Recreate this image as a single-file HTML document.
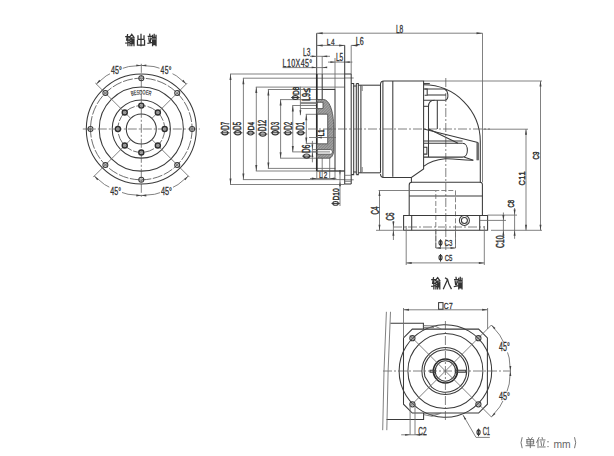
<!DOCTYPE html>
<html><head><meta charset="utf-8"><style>
html,body{margin:0;padding:0;background:#fff;}
svg{display:block;}
text{font-family:"Liberation Sans",sans-serif;stroke:#333;stroke-width:0.3;}
.o{stroke:#3a3a3a;stroke-width:1.05;fill:none;}
.t{stroke:#2a2a2a;stroke-width:1.7;fill:none;}
.d{stroke:#6a6a6a;stroke-width:0.85;fill:none;}
.c{stroke:#555;stroke-width:0.75;fill:none;stroke-dasharray:9 2 2 2;}
.h{stroke:#666;stroke-width:0.8;fill:none;stroke-dasharray:5 2;}
.hl{stroke:#555;stroke-width:0.85;fill:none;stroke-dasharray:10 1.6;}
.ih{stroke:#2e2e2e;stroke-width:1.45;fill:#bbb;}
.hb{stroke:#555;stroke-width:0.9;fill:none;stroke-dasharray:2.5 1.5;}
.ht{stroke:#666;stroke-width:0.6;fill:none;}
.tx{stroke:#333;stroke-width:1;fill:none;}
.g{stroke:#333;stroke-width:1.3;fill:none;stroke-linecap:round;stroke-linejoin:round;}
</style></head>
<body><svg width="614" height="456" viewBox="0 0 614 456">
<circle class="o" cx="141.3" cy="129" r="55"/>
<circle class="hl" cx="141.3" cy="129" r="50.8"/>
<circle class="o" cx="141.3" cy="129" r="42.1"/>
<circle class="o" cx="141.3" cy="129" r="29.1"/>
<circle class="hl" cx="141.3" cy="129" r="23.4"/>
<circle class="o" cx="141.3" cy="129" r="15"/>
<line class="c" x1="82.8" y1="129" x2="199.8" y2="129"/>
<line class="c" x1="141.3" y1="63.8" x2="141.3" y2="197"/>
<line class="d" x1="151.91" y1="118.39" x2="187.26" y2="83.04"/>
<line class="d" x1="130.69" y1="118.39" x2="95.34" y2="83.04"/>
<line class="d" x1="130.69" y1="139.61" x2="93.22" y2="177.08"/>
<line class="d" x1="151.91" y1="139.61" x2="189.38" y2="177.08"/>
<circle class="o" cx="192.1" cy="129" r="2.5"/>
<circle class="ht" cx="192.1" cy="129" r="1.2"/>
<circle class="ih" cx="164.7" cy="129" r="2.5"/>
<circle class="ht" cx="164.7" cy="129" r="0.9"/>
<circle class="o" cx="177.22" cy="93.08" r="2.5"/>
<circle class="ht" cx="177.22" cy="93.08" r="1.2"/>
<circle class="ih" cx="157.85" cy="112.45" r="2.5"/>
<circle class="ht" cx="157.85" cy="112.45" r="0.9"/>
<circle class="o" cx="141.3" cy="78.2" r="2.5"/>
<circle class="ht" cx="141.3" cy="78.2" r="1.2"/>
<circle class="ih" cx="141.3" cy="105.6" r="2.5"/>
<circle class="ht" cx="141.3" cy="105.6" r="0.9"/>
<circle class="o" cx="105.38" cy="93.08" r="2.5"/>
<circle class="ht" cx="105.38" cy="93.08" r="1.2"/>
<circle class="ih" cx="124.75" cy="112.45" r="2.5"/>
<circle class="ht" cx="124.75" cy="112.45" r="0.9"/>
<circle class="o" cx="90.5" cy="129" r="2.5"/>
<circle class="ht" cx="90.5" cy="129" r="1.2"/>
<circle class="ih" cx="117.9" cy="129" r="2.5"/>
<circle class="ht" cx="117.9" cy="129" r="0.9"/>
<circle class="o" cx="105.38" cy="164.92" r="2.5"/>
<circle class="ht" cx="105.38" cy="164.92" r="1.2"/>
<circle class="ih" cx="124.75" cy="145.55" r="2.5"/>
<circle class="ht" cx="124.75" cy="145.55" r="0.9"/>
<circle class="o" cx="141.3" cy="179.8" r="2.5"/>
<circle class="ht" cx="141.3" cy="179.8" r="1.2"/>
<circle class="ih" cx="141.3" cy="152.4" r="2.5"/>
<circle class="ht" cx="141.3" cy="152.4" r="0.9"/>
<circle class="o" cx="177.22" cy="164.92" r="2.5"/>
<circle class="ht" cx="177.22" cy="164.92" r="1.2"/>
<circle class="ih" cx="157.85" cy="145.55" r="2.5"/>
<circle class="ht" cx="157.85" cy="145.55" r="0.9"/>
<path class="d" d="M141.3,65.4 A63.6,63.6 0 0 0 96.33,84.03"/>
<polygon fill="#444" points="141.3,65.4 136.3,66.3 136.3,64.5"/>
<polygon fill="#444" points="96.33,84.03 99.23,79.86 100.5,81.13"/>
<path class="d" d="M186.27,84.03 A63.6,63.6 0 0 0 141.3,65.4"/>
<polygon fill="#444" points="186.27,84.03 182.1,81.13 183.37,79.86"/>
<polygon fill="#444" points="141.3,65.4 146.3,64.5 146.3,66.3"/>
<path class="d" d="M94.28,176.02 A66.5,66.5 0 0 0 141.3,195.5"/>
<polygon fill="#444" points="94.28,176.02 98.45,178.92 97.18,180.19"/>
<polygon fill="#444" points="141.3,195.5 136.3,196.4 136.3,194.6"/>
<path class="d" d="M141.3,195.5 A66.5,66.5 0 0 0 188.32,176.02"/>
<polygon fill="#444" points="141.3,195.5 146.3,194.6 146.3,196.4"/>
<polygon fill="#444" points="188.32,176.02 185.42,180.19 184.15,178.92"/>
<rect x="110" y="65.8" width="12.8" height="9.2" fill="#fff"/>
<text transform="translate(111,74) scale(0.68,1)" font-size="10.47" textLength="15.88" lengthAdjust="spacing" fill="#333">45°</text>
<rect x="159.5" y="66.3" width="13" height="8.9" fill="#fff"/>
<text transform="translate(160.5,74.2) scale(0.68,1)" font-size="10.03" textLength="16.18" lengthAdjust="spacing" fill="#333">45°</text>
<rect x="109.3" y="186" width="12.7" height="9.5" fill="#fff"/>
<text transform="translate(110.3,194.5) scale(0.65,1)" font-size="10.9" textLength="16.48" lengthAdjust="spacing" fill="#333">45°</text>
<rect x="160" y="186" width="13" height="9.5" fill="#fff"/>
<text transform="translate(161,194.5) scale(0.67,1)" font-size="10.9" textLength="16.48" lengthAdjust="spacing" fill="#333">45°</text>
<path id="bp" d="M131.47,95.82 A34.6,34.6 0 0 1 151.13,95.82" fill="none" stroke="none"/>
<text font-size="6.4" fill="#3a3a3a" style="stroke-width:0.2"><textPath href="#bp" textLength="19.6" lengthAdjust="spacingAndGlyphs">BESDOER</textPath></text>
<line class="d" x1="230.5" y1="74" x2="230.5" y2="184.5"/>
<line class="d" x1="230" y1="74" x2="344.7" y2="74"/>
<line class="d" x1="230" y1="184.5" x2="344.7" y2="184.5"/>
<polygon fill="#444" points="230.5,74 231.5,80 229.5,80"/>
<polygon fill="#444" points="230.5,184.5 229.5,178.5 231.5,178.5"/>
<ellipse cx="224.9" cy="132.82" rx="3.02" ry="2.07" fill="none" stroke="#333" stroke-width="1.15"/>
<line class="tx" x1="220.5" y1="132.82" x2="229.5" y2="132.82"/>
<text style="stroke-width:0.5" transform="translate(228.5,129.74) rotate(-90) scale(0.59,1)" font-size="10.47" textLength="13.38" lengthAdjust="spacing" fill="#333">D7</text>
<line class="d" x1="243.4" y1="78.2" x2="243.4" y2="179.6"/>
<line class="d" x1="242.9" y1="78.2" x2="344.7" y2="78.2"/>
<line class="d" x1="242.9" y1="179.6" x2="344.7" y2="179.6"/>
<polygon fill="#444" points="243.4,78.2 244.4,84.2 242.4,84.2"/>
<polygon fill="#444" points="243.4,179.6 242.4,173.6 244.4,173.6"/>
<ellipse cx="237.75" cy="132.78" rx="3.07" ry="2.1" fill="none" stroke="#333" stroke-width="1.15"/>
<line class="tx" x1="233.3" y1="132.78" x2="242.4" y2="132.78"/>
<text style="stroke-width:0.5" transform="translate(241.4,129.66) rotate(-90) scale(0.57,1)" font-size="10.61" textLength="13.56" lengthAdjust="spacing" fill="#333">D5</text>
<line class="d" x1="256.3" y1="87.1" x2="256.3" y2="171"/>
<line class="d" x1="255.8" y1="87.1" x2="344.7" y2="87.1"/>
<line class="d" x1="255.8" y1="171" x2="344.7" y2="171"/>
<polygon fill="#444" points="256.3,87.1 257.3,93.1 255.3,93.1"/>
<polygon fill="#444" points="256.3,171 255.3,165 257.3,165"/>
<ellipse cx="250.6" cy="133.06" rx="2.77" ry="1.9" fill="none" stroke="#333" stroke-width="1.15"/>
<line class="tx" x1="246.5" y1="133.06" x2="254.9" y2="133.06"/>
<text style="stroke-width:0.5" transform="translate(253.9,130.22) rotate(-90) scale(0.68,1)" font-size="9.59" textLength="12.26" lengthAdjust="spacing" fill="#333">D4</text>
<line class="d" x1="268.4" y1="89.5" x2="268.4" y2="168.4"/>
<line class="d" x1="267.9" y1="89.5" x2="335.4" y2="89.5"/>
<line class="d" x1="267.9" y1="168.4" x2="335.4" y2="168.4"/>
<polygon fill="#444" points="268.4,89.5 269.4,95.5 267.4,95.5"/>
<polygon fill="#444" points="268.4,168.4 267.4,162.4 269.4,162.4"/>
<ellipse cx="262.75" cy="134.08" rx="3.07" ry="2.1" fill="none" stroke="#333" stroke-width="1.15"/>
<line class="tx" x1="258.3" y1="134.08" x2="267.4" y2="134.08"/>
<text style="stroke-width:0.5" transform="translate(266.4,130.96) rotate(-90) scale(0.57,1)" font-size="10.61" textLength="19.46" lengthAdjust="spacing" fill="#333">D12</text>
<line class="d" x1="280.6" y1="99.6" x2="280.6" y2="158.2"/>
<line class="d" x1="280.1" y1="99.6" x2="316.8" y2="99.6"/>
<line class="d" x1="280.1" y1="158.2" x2="316.8" y2="158.2"/>
<polygon fill="#444" points="280.6,99.6 281.6,105.6 279.6,105.6"/>
<polygon fill="#444" points="280.6,158.2 279.6,152.2 281.6,152.2"/>
<ellipse cx="275.25" cy="132.78" rx="3.07" ry="2.1" fill="none" stroke="#333" stroke-width="1.15"/>
<line class="tx" x1="270.8" y1="132.78" x2="279.9" y2="132.78"/>
<text style="stroke-width:0.5" transform="translate(278.9,129.66) rotate(-90) scale(0.57,1)" font-size="10.61" textLength="13.56" lengthAdjust="spacing" fill="#333">D3</text>
<line class="d" x1="292.8" y1="105.5" x2="292.8" y2="151.9"/>
<line class="d" x1="292.3" y1="105.5" x2="316.8" y2="105.5"/>
<line class="d" x1="292.3" y1="151.9" x2="316.8" y2="151.9"/>
<polygon fill="#444" points="292.8,105.5 293.8,111.5 291.8,111.5"/>
<polygon fill="#444" points="292.8,151.9 291.8,145.9 293.8,145.9"/>
<ellipse cx="287.9" cy="132.82" rx="3.02" ry="2.07" fill="none" stroke="#333" stroke-width="1.15"/>
<line class="tx" x1="283.5" y1="132.82" x2="292.5" y2="132.82"/>
<text style="stroke-width:0.5" transform="translate(291.5,129.74) rotate(-90) scale(0.59,1)" font-size="10.47" textLength="13.38" lengthAdjust="spacing" fill="#333">D2</text>
<line class="d" x1="306.3" y1="114.3" x2="306.3" y2="143.4"/>
<line class="d" x1="305.8" y1="114.3" x2="316.8" y2="114.3"/>
<line class="d" x1="305.8" y1="143.4" x2="316.8" y2="143.4"/>
<polygon fill="#444" points="306.3,114.3 307.3,120.3 305.3,120.3"/>
<polygon fill="#444" points="306.3,143.4 305.3,137.4 307.3,137.4"/>
<ellipse cx="300.75" cy="132.86" rx="2.98" ry="2.04" fill="none" stroke="#333" stroke-width="1.15"/>
<line class="tx" x1="296.4" y1="132.86" x2="305.3" y2="132.86"/>
<text style="stroke-width:0.5" transform="translate(304.3,129.82) rotate(-90) scale(0.6,1)" font-size="10.32" textLength="13.19" lengthAdjust="spacing" fill="#333">D1</text>
<line class="c" x1="344.7" y1="78" x2="354.5" y2="78"/>
<line class="c" x1="344.7" y1="179.8" x2="354.5" y2="179.8"/>
<line class="o" x1="316.7" y1="33.2" x2="316.7" y2="74"/>
<line class="d" x1="482.5" y1="33.2" x2="482.5" y2="182.2"/>
<line class="d" x1="316.7" y1="33.2" x2="482.5" y2="33.2"/>
<polygon fill="#444" points="316.7,33.2 322.7,32.2 322.7,34.2"/>
<polygon fill="#444" points="482.5,33.2 476.5,34.2 476.5,32.2"/>
<text transform="translate(395.9,32.5) scale(0.63,1)" font-size="10.47" textLength="11.64" lengthAdjust="spacing" fill="#333">L8</text>
<line class="d" x1="316.7" y1="45.4" x2="345.1" y2="45.4"/>
<polygon fill="#444" points="316.7,45.4 322.7,44.4 322.7,46.4"/>
<polygon fill="#444" points="345.1,45.4 339.1,46.4 339.1,44.4"/>
<text transform="translate(326.7,45) scale(0.68,1)" font-size="9.59" textLength="11.62" lengthAdjust="spacing" fill="#333">L4</text>
<line class="d" x1="351.2" y1="45.4" x2="351.2" y2="74"/>
<line class="d" x1="351.2" y1="45.4" x2="358" y2="45.4"/>
<polygon fill="#444" points="351.2,45.4 357.2,44.4 357.2,46.4"/>
<text transform="translate(355.8,45) scale(0.68,1)" font-size="10.47" textLength="11.64" lengthAdjust="spacing" fill="#333">L6</text>
<line class="d" x1="310" y1="56.3" x2="330" y2="56.3"/>
<polygon fill="#444" points="316.7,56.3 311.7,57.2 311.7,55.4"/>
<polygon fill="#444" points="322.2,56.3 327.2,55.4 327.2,57.2"/>
<text transform="translate(303,56.2) scale(0.57,1)" font-size="11.48" textLength="12.77" lengthAdjust="spacing" fill="#333">L3</text>
<line class="d" x1="322.2" y1="56" x2="322.2" y2="74"/>
<line class="d" x1="282.6" y1="67.6" x2="325.4" y2="67.6"/>
<polygon fill="#444" points="316.7,67.4 311.7,68.3 311.7,66.5"/>
<polygon fill="#444" points="322.2,67.4 327.2,66.5 327.2,68.3"/>
<text transform="translate(282.6,66.7) scale(0.68,1)" font-size="10.47" textLength="43.53" lengthAdjust="spacing" fill="#333">L10X45°</text>
<line class="d" x1="328" y1="62.1" x2="352.4" y2="62.1"/>
<polygon fill="#444" points="335.4,62.1 330.4,63 330.4,61.2"/>
<polygon fill="#444" points="344.7,62.1 349.7,61.2 349.7,63"/>
<text transform="translate(336,61.4) scale(0.62,1)" font-size="10.47" textLength="11.64" lengthAdjust="spacing" fill="#333">L5</text>
<line class="d" x1="335" y1="58" x2="335" y2="89.4"/>
<line class="o" x1="344.7" y1="45.4" x2="344.7" y2="184"/>
<line class="o" x1="351.2" y1="74" x2="351.2" y2="184"/>
<line class="o" x1="344.7" y1="74" x2="351.2" y2="74"/>
<line class="o" x1="344.7" y1="184" x2="351.2" y2="184"/>
<line class="d" x1="344.7" y1="175.3" x2="351.2" y2="175.3"/>
<line class="d" x1="344.7" y1="181.3" x2="351.2" y2="181.3"/>
<polyline class="o" points="351.2,83.4 353.7,83.4 353.7,86 356.3,86"/>
<polyline class="o" points="351.2,174.6 353.7,174.6 353.7,172 356.3,172"/>
<line class="o" x1="353.7" y1="86" x2="353.7" y2="172"/>
<line class="o" x1="356.3" y1="83.4" x2="356.3" y2="174.6"/>
<polyline class="o" points="356.3,83.4 358.3,83.4 358.3,174.6 356.3,174.6"/>
<polyline class="o" points="358.3,85.2 380.5,85.2"/>
<polyline class="o" points="358.3,172.8 380.5,172.8"/>
<line class="o" x1="360.9" y1="85.2" x2="360.9" y2="172.8"/>
<line class="d" x1="362.2" y1="86" x2="362.2" y2="91"/>
<line class="d" x1="362.2" y1="167" x2="362.2" y2="172"/>
<path class="o" d="M380.5,172.8 L380.5,84.3 Q380.5,80.9 383.9,80.9 L423.6,80.9 L423.6,169 L411.4,177.4 L383.9,177.4 Q380.5,177.4 380.5,174"/>
<line class="o" x1="382.9" y1="80.9" x2="382.9" y2="177.4"/>
<line class="o" x1="411.4" y1="177.4" x2="411.4" y2="182.2"/>
<line class="o" x1="392.8" y1="81" x2="392.8" y2="176.8"/>
<line class="d" x1="423.7" y1="81" x2="542" y2="81"/>
<line class="t" x1="316.8" y1="74" x2="316.8" y2="171"/>
<line class="o" x1="322.2" y1="74" x2="322.2" y2="99.5"/>
<line class="d" x1="322.2" y1="158" x2="322.2" y2="178.5"/>
<line class="d" x1="316.8" y1="171" x2="316.8" y2="178.5"/>
<line class="d" x1="335" y1="171" x2="335" y2="178.5"/>
<line class="d" x1="329.7" y1="158" x2="329.7" y2="178"/>
<line class="o" x1="335" y1="89.4" x2="335" y2="171"/>
<line class="o" x1="322.2" y1="89.4" x2="335" y2="89.4"/>
<line class="o" x1="335" y1="171" x2="344.7" y2="171"/>
<line class="o" x1="316.8" y1="171" x2="335" y2="171"/>
<defs><pattern id="hp" width="2" height="2" patternUnits="userSpaceOnUse" patternTransform="rotate(45)"><rect width="2" height="2" fill="#b4b4b4"/><line x1="0" y1="0" x2="0" y2="2" stroke="#4a4a4a" stroke-width="0.85"/><line x1="0" y1="1" x2="2" y2="1" stroke="#7a7a7a" stroke-width="0.5"/></pattern></defs>
<path fill="url(#hp)" stroke="#444" stroke-width="0.8" d="M316.8,99.5 L323.4,99.5 C329,99.5 333.7,110 333.7,128 L333.7,150 C333.7,154 332,158.2 329,158.2 L316.8,158.2 L316.8,154.2 L330.5,154.2 C333,154.2 333,149.6 330.5,149.6 L316.8,149.6 L316.8,143.8 L327.7,143.8 L327.7,114.2 L316.8,114.2 L316.8,108.6 L323,108.6 L323,102.3 L316.8,102.3 Z"/>
<line class="d" x1="300.5" y1="102.4" x2="316.8" y2="102.4"/>
<line class="d" x1="300.5" y1="103.6" x2="316.8" y2="103.6"/>
<line class="d" x1="300.5" y1="108.5" x2="316.8" y2="108.5"/>
<line class="d" x1="312.4" y1="149.6" x2="316.8" y2="149.6"/>
<line class="d" x1="312.4" y1="151.9" x2="330" y2="151.9"/>
<text style="stroke-width:0.5" transform="translate(324.4,136.3) rotate(-90) scale(0.74,1)" font-size="8.14" textLength="9.32" lengthAdjust="spacing" fill="#333">L1</text>
<line class="d" x1="309" y1="137.5" x2="336" y2="137.5"/>
<polygon fill="#444" points="316.8,137.5 321.8,136.6 321.8,138.4"/>
<line class="d" x1="300.4" y1="86.7" x2="300.4" y2="115.2"/>
<polygon fill="#444" points="300.4,115.2 299.5,110.2 301.3,110.2"/>
<ellipse cx="295.35" cy="97.52" rx="2.81" ry="1.93" fill="none" stroke="#333" stroke-width="1.15"/>
<line class="tx" x1="291.2" y1="97.52" x2="299.7" y2="97.52"/>
<text style="stroke-width:0.5" transform="translate(298.7,94.64) rotate(-90) scale(0.64,1)" font-size="9.74" textLength="12.45" lengthAdjust="spacing" fill="#333">D8</text>
<text style="stroke-width:0.5" transform="translate(309.5,101) rotate(-90) scale(0.66,1)" font-size="10.9" textLength="12.13" lengthAdjust="spacing" fill="#333">L9</text>
<text style="stroke-width:0.5" transform="translate(309.5,92.5) rotate(-90) scale(0.74,1)" font-size="10.9" textLength="8.11" lengthAdjust="spacing" fill="#333">≤</text>
<line class="d" x1="312.4" y1="140.9" x2="312.4" y2="162.3"/>
<polygon fill="#444" points="312.4,149.6 311.5,144.6 313.3,144.6"/>
<polygon fill="#444" points="312.4,151.9 313.3,156.9 311.5,156.9"/>
<ellipse cx="306.6" cy="156.12" rx="3.02" ry="2.07" fill="none" stroke="#333" stroke-width="1.15"/>
<line class="tx" x1="302.2" y1="156.12" x2="311.2" y2="156.12"/>
<text style="stroke-width:0.5" transform="translate(310.2,153.04) rotate(-90) scale(0.62,1)" font-size="10.47" textLength="13.38" lengthAdjust="spacing" fill="#333">D6</text>
<line class="d" x1="310" y1="178.5" x2="336.3" y2="178.5"/>
<polygon fill="#444" points="316.8,178.5 311.8,179.4 311.8,177.6"/>
<polygon fill="#444" points="329.7,178.5 334.7,177.6 334.7,179.4"/>
<text transform="translate(319,177.5) scale(0.68,1)" font-size="9.45" textLength="12.35" lengthAdjust="spacing" fill="#333">L2</text>
<line class="d" x1="340" y1="170.3" x2="340" y2="206"/>
<polygon fill="#444" points="340,175.3 339.1,170.3 340.9,170.3"/>
<polygon fill="#444" points="340,181.3 340.9,186.3 339.1,186.3"/>
<ellipse cx="335.55" cy="203.4" rx="2.73" ry="1.87" fill="none" stroke="#333" stroke-width="1.15"/>
<line class="tx" x1="331.5" y1="203.4" x2="339.8" y2="203.4"/>
<text style="stroke-width:0.5" transform="translate(338.8,200.6) rotate(-90) scale(0.71,1)" font-size="9.45" textLength="17.33" lengthAdjust="spacing" fill="#333">D10</text>
<line class="o" x1="423.7" y1="83.6" x2="429.8" y2="83.6"/>
<path class="o" d="M423.7,84.8 A56.8,56.8 0 0 1 480.3,141.6 L480.3,182.5"/>
<line class="c" x1="445.8" y1="78" x2="445.8" y2="250"/>
<line class="d" x1="482.6" y1="129.2" x2="528" y2="129.2"/>
<line class="c" x1="308" y1="129" x2="490" y2="129"/>
<path class="o" d="M423.7,89.0 L443.4,89.0 C448.6,89.2 449.5,100.2 445,100.2 L423.7,100.2"/>
<polyline class="o" points="424.6,89 427.2,89 427.2,95.3 424.6,95.3"/>
<path class="o" d="M427.2,95.0 L446,95.0"/>
<path class="o" d="M428.5,157.1 L428.5,106.5 Q428.5,100.2 434.5,100.2"/>
<line class="o" x1="437.3" y1="100.2" x2="437.3" y2="129"/>
<line class="o" x1="423.7" y1="106.3" x2="428.5" y2="106.3"/>
<line class="o" x1="423.8" y1="129" x2="477.9" y2="142.6"/>
<line class="o" x1="428.7" y1="129" x2="458" y2="143.3"/>
<line class="o" x1="423.8" y1="141" x2="462.5" y2="141"/>
<line class="o" x1="423.8" y1="143.3" x2="462.5" y2="143.3"/>
<path class="o" d="M423.8,157.1 L462.5,157.1 C469,157.1 469,143.3 462.5,143.3"/>
<polyline class="o" points="423.8,147.2 426.9,147.2 426.9,154.1 423.8,154.1"/>
<path class="o" d="M423.6,166.4 C428,163 434,159.8 445,158.8 C456,158.4 462,160.5 473.3,160.2"/>
<line class="o" x1="464" y1="157.1" x2="473.3" y2="160.2"/>
<line class="o" x1="477.1" y1="142.6" x2="477.1" y2="160.2"/>
<line class="o" x1="478.2" y1="142.6" x2="478.2" y2="160.2"/>
<path class="o" d="M409.2,215.4 L409.2,185 Q409.2,182.2 412,182.2 L480,182.2 Q482.4,182.2 482.4,184.6 L482.4,215.4"/>
<line class="o" x1="409.2" y1="196" x2="482.4" y2="196"/>
<line class="d" x1="378.6" y1="190.5" x2="435.8" y2="190.5"/>
<polyline class="h" points="435.8,248 435.8,190.5 455.5,190.5 455.5,248"/>
<polygon class="o" points="403.6,215.4 487.6,215.4 487.6,230.2 403.6,230.2"/>
<line class="o" x1="411.7" y1="215.4" x2="411.7" y2="230.2"/>
<line class="o" x1="479.7" y1="215.4" x2="479.7" y2="230.2"/>
<line class="c" x1="393" y1="227" x2="484.3" y2="227"/>
<circle class="o" cx="464.4" cy="220.4" r="5"/>
<circle class="o" cx="464.4" cy="220.4" r="3"/>
<line class="d" x1="487.6" y1="215.1" x2="517" y2="215.1"/>
<line class="d" x1="479.7" y1="220.4" x2="506" y2="220.4"/>
<line class="d" x1="491" y1="230.3" x2="542" y2="230.3"/>
<line class="d" x1="402.9" y1="230.3" x2="376" y2="230.3"/>
<line class="d" x1="379.5" y1="190.5" x2="379.5" y2="230.3"/>
<polygon fill="#444" points="379.5,190.5 380.5,196 378.5,196"/>
<polygon fill="#444" points="379.5,230.3 378.5,224.8 380.5,224.8"/>
<text style="stroke-width:0.5" transform="translate(379.2,214.5) rotate(-90) scale(0.59,1)" font-size="10.47" textLength="13.38" lengthAdjust="spacing" fill="#333">C4</text>
<line class="d" x1="393.4" y1="221" x2="393.4" y2="240"/>
<polygon fill="#444" points="393.4,227 392.4,221.5 394.4,221.5"/>
<polygon fill="#444" points="393.4,230.3 394.4,235.8 392.4,235.8"/>
<text style="stroke-width:0.5" transform="translate(394.3,220.4) rotate(-90) scale(0.59,1)" font-size="10.47" textLength="13.38" lengthAdjust="spacing" fill="#333">C6</text>
<line class="d" x1="503.4" y1="212.5" x2="503.4" y2="236.8"/>
<polygon fill="#444" points="503.4,220.4 502.4,214.9 504.4,214.9"/>
<polygon fill="#444" points="503.4,230.3 504.4,235.8 502.4,235.8"/>
<text style="stroke-width:0.5" transform="translate(504.3,248) rotate(-90) scale(0.68,1)" font-size="10.03" textLength="18.4" lengthAdjust="spacing" fill="#333">C10</text>
<line class="d" x1="514.6" y1="208" x2="514.6" y2="238.8"/>
<polygon fill="#444" points="514.6,215.1 513.6,209.6 515.6,209.6"/>
<polygon fill="#444" points="514.6,230.3 515.6,235.8 513.6,235.8"/>
<text style="stroke-width:0.5" transform="translate(514,207.5) rotate(-90) scale(0.61,1)" font-size="9.59" textLength="12.26" lengthAdjust="spacing" fill="#333">C8</text>
<line class="d" x1="526" y1="129.2" x2="526" y2="230.3"/>
<polygon fill="#444" points="526,129.2 527,134.7 525,134.7"/>
<polygon fill="#444" points="526,230.3 525,224.8 527,224.8"/>
<text style="stroke-width:0.5" transform="translate(525.3,185.5) rotate(-90) scale(0.74,1)" font-size="9.88" textLength="18.92" lengthAdjust="spacing" fill="#333">C11</text>
<line class="d" x1="540.5" y1="81" x2="540.5" y2="230.3"/>
<polygon fill="#444" points="540.5,81 541.5,86.5 539.5,86.5"/>
<polygon fill="#444" points="540.5,230.3 539.5,224.8 541.5,224.8"/>
<text style="stroke-width:0.5" transform="translate(539.2,159.5) rotate(-90) scale(0.64,1)" font-size="9.59" textLength="12.26" lengthAdjust="spacing" fill="#333">C9</text>
<line class="d" x1="435.8" y1="230.3" x2="435.8" y2="248"/>
<line class="d" x1="455.5" y1="230.3" x2="455.5" y2="248"/>
<line class="d" x1="435.8" y1="248" x2="455.5" y2="248"/>
<polygon fill="#444" points="435.8,248 440.8,247.1 440.8,248.9"/>
<polygon fill="#444" points="455.5,248 450.5,248.9 450.5,247.1"/>
<ellipse cx="440.51" cy="242.85" rx="1.51" ry="2.28" fill="none" stroke="#333" stroke-width="1.1"/>
<line class="tx" x1="440.51" y1="239.3" x2="440.51" y2="246.8"/>
<text transform="translate(444.62,245.8) scale(0.63,1)" font-size="9.74" textLength="12.45" lengthAdjust="spacing" fill="#333">C3</text>
<line class="d" x1="406.2" y1="226" x2="406.2" y2="265"/>
<line class="d" x1="484.3" y1="226" x2="484.3" y2="265"/>
<line class="d" x1="406.2" y1="262.9" x2="484.3" y2="262.9"/>
<polygon fill="#444" points="406.2,262.9 411.7,261.9 411.7,263.9"/>
<polygon fill="#444" points="484.3,262.9 478.8,263.9 478.8,261.9"/>
<ellipse cx="440.53" cy="257.6" rx="1.53" ry="2.31" fill="none" stroke="#333" stroke-width="1.1"/>
<line class="tx" x1="440.53" y1="254" x2="440.53" y2="261.6"/>
<text transform="translate(444.66,260.6) scale(0.61,1)" font-size="9.88" textLength="12.63" lengthAdjust="spacing" fill="#333">C5</text>
<polygon class="o" points="412.3,329.1 478.6,329.1 487.4,337.9 487.4,404.2 478.6,413 412.3,413 403.5,404.2 403.5,337.9"/>
<path class="o" d="M491.7,371 A46.3,46.3 0 1 0 491.7,371.01"/>
<circle class="o" cx="445.4" cy="371" r="37.5"/>
<circle class="o" cx="445.4" cy="371" r="23.5"/>
<path class="o" d="M424.1,371 A21.3,21.3 0 0 1 466.7,371 A21.3,21.3 0 0 1 431.6,387.2 L424.9,376.5 Z"/>
<circle class="t" cx="445.4" cy="371" r="12"/>
<circle class="o" cx="445.4" cy="371" r="10.2"/>
<polygon class="o" points="430.1,370.2 435,370.2 435,372.2 430.1,372.2"/>
<polygon class="o" points="455.8,370.2 465.7,370.2 465.7,372.2 455.8,372.2"/>
<line class="c" x1="445.4" y1="321" x2="445.4" y2="420"/>
<line class="c" x1="383" y1="371" x2="511" y2="371"/>
<line class="d" x1="445.4" y1="371" x2="491.36" y2="325.04"/>
<line class="d" x1="445.4" y1="371" x2="410.04" y2="335.64"/>
<line class="d" x1="445.4" y1="371" x2="410.04" y2="406.36"/>
<line class="d" x1="445.4" y1="371" x2="491.36" y2="416.96"/>
<circle class="o" cx="412.4" cy="338.2" r="2.6"/>
<circle class="ht" cx="412.4" cy="338.2" r="1.2"/>
<circle class="o" cx="412.4" cy="404.3" r="2.6"/>
<circle class="ht" cx="412.4" cy="404.3" r="1.2"/>
<circle class="o" cx="478.4" cy="338.2" r="2.6"/>
<circle class="ht" cx="478.4" cy="338.2" r="1.2"/>
<circle class="o" cx="478.4" cy="404.3" r="2.6"/>
<circle class="ht" cx="478.4" cy="404.3" r="1.2"/>
<polyline class="o" points="390.4,323.2 423.4,323.2 423.4,329.2"/>
<polyline class="d" points="423.5,325.6 434.5,325.9 441.5,329.2"/>
<polyline class="d" points="423.5,327.4 434,327.4"/>
<polyline class="o" points="386.5,419.4 423.6,419.4 423.6,413"/>
<polyline class="d" points="423.6,414.6 432,416.3 441.2,413"/>
<polyline class="d" points="429,414.5 440,413.6"/>
<path class="d" d="M386.4,311.8 Q383.5,370 382.7,430.2"/>
<path class="d" d="M390.5,311.8 Q387.6,370 386.8,430.2"/>
<line class="d" x1="403.5" y1="308" x2="403.5" y2="337"/>
<line class="d" x1="487.6" y1="308" x2="487.6" y2="329"/>
<line class="d" x1="403.5" y1="309.8" x2="487.6" y2="309.8"/>
<polygon fill="#444" points="403.5,309.8 409,308.8 409,310.8"/>
<polygon fill="#444" points="487.6,309.8 482.1,310.8 482.1,308.8"/>
<rect x="438.6" y="302.6" width="4.4" height="6.6" fill="none" stroke="#333" stroke-width="1"/>
<text transform="translate(443.8,309.2) scale(0.68,1)" font-size="9.88" textLength="13.09" lengthAdjust="spacing" fill="#333">C7</text>
<path class="d" d="M510.4,371 A65,65 0 0 0 491.36,325.04"/>
<path class="d" d="M491.36,416.96 A65,65 0 0 0 510.4,371"/>
<polygon fill="#444" points="491.36,325.04 495.53,327.94 494.26,329.21"/>
<polygon fill="#444" points="510.4,371 509.5,366 511.3,366"/>
<polygon fill="#444" points="510.4,371 511.3,376 509.5,376"/>
<polygon fill="#444" points="491.36,416.96 494.26,412.79 495.53,414.06"/>
<rect x="498.1" y="342" width="12.8" height="10.4" fill="#fff"/>
<text transform="translate(499.1,351.4) scale(0.58,1)" font-size="12.21" textLength="18.46" lengthAdjust="spacing" fill="#333">45°</text>
<rect x="498" y="391.3" width="13" height="9.7" fill="#fff"/>
<text transform="translate(499,400) scale(0.65,1)" font-size="11.19" textLength="16.92" lengthAdjust="spacing" fill="#333">45°</text>
<line class="d" x1="410.1" y1="404" x2="410.1" y2="434.8"/>
<line class="d" x1="415" y1="404" x2="415" y2="434.8"/>
<line class="d" x1="401.2" y1="434.8" x2="427" y2="434.8"/>
<polygon fill="#444" points="410.1,434.8 405.1,435.7 405.1,433.9"/>
<polygon fill="#444" points="415,434.8 420,433.9 420,435.7"/>
<text transform="translate(418.3,434.8) scale(0.6,1)" font-size="10.61" textLength="13.56" lengthAdjust="spacing" fill="#333">C2</text>
<polyline class="d" points="463,415 476,437.4 489.8,437.4"/>
<polygon fill="#444" points="463,415 466.28,418.88 464.72,419.78"/>
<ellipse cx="478.55" cy="432.25" rx="1.55" ry="2.35" fill="none" stroke="#333" stroke-width="1.1"/>
<line class="tx" x1="478.55" y1="428.6" x2="478.55" y2="436.3"/>
<text transform="translate(482.71,435.3) scale(0.57,1)" font-size="10.03" textLength="12.82" lengthAdjust="spacing" fill="#333">C1</text>
<path d="M125.8,36.54 L129.08,36.54 M127.53,34.61 L126.62,40.21 L129.08,40.21 M127.9,37.97 L127.9,45.5 M125.8,43.06 L129.08,42.55 M131.81,34.5 L129.44,37.35 M131.81,34.5 L134,37.35 M130.81,37.97 L132.72,37.97 M129.99,45.5 L129.99,39.19 L131.81,39.19 L131.81,45.5 M129.99,41.43 L131.81,41.43 M129.99,43.46 L131.81,43.46 M133,39.59 L133,43.67 M134,38.98 L134,45.5" fill="none" stroke="#333" stroke-width="1.25" stroke-linecap="square" stroke-linejoin="miter"/>
<path d="M141,34.3 L141,45.5 M137.99,35.83 L137.99,39.39 L144.01,39.39 L144.01,35.83 M137.45,40.71 L137.45,45.09 L144.55,45.09 L144.55,40.71" fill="none" stroke="#333" stroke-width="1.25" stroke-linecap="square" stroke-linejoin="miter"/>
<path d="M149.73,34.3 L149.91,35.52 M148.27,36.44 L151.37,36.44 M148.82,37.97 L149.28,41.43 M150.82,37.97 L150.37,41.43 M148,43.26 L151.46,42.65 M154.2,34.3 L154.2,37.35 M152.56,35.32 L152.56,37.35 L156.02,37.35 L156.02,35.32 M152.01,38.88 L156.29,38.88 M152.56,45.5 L152.56,40.41 L156.02,40.41 L156.02,45.5 M153.74,40.41 L153.74,44.69 M154.83,40.41 L154.83,44.69" fill="none" stroke="#333" stroke-width="1.25" stroke-linecap="square" stroke-linejoin="miter"/>
<path d="M431.8,279.68 L435,279.68 M433.49,277.71 L432.6,283.41 L435,283.41 M433.84,281.13 L433.84,288.8 M431.8,286.31 L435,285.79 M437.67,277.61 L435.36,280.51 M437.67,277.61 L439.8,280.51 M436.69,281.13 L438.56,281.13 M435.89,288.8 L435.89,282.37 L437.67,282.37 L437.67,288.8 M435.89,284.65 L437.67,284.65 M435.89,286.73 L437.67,286.73 M438.82,282.79 L438.82,286.93 M439.8,282.17 L439.8,288.8" fill="none" stroke="#333" stroke-width="1.25" stroke-linecap="square" stroke-linejoin="miter"/>
<path d="M445.55,278.02 L447.56,279.47 L443.55,288.59 M447.56,279.47 L448.92,284.14 L451.2,288.59" fill="none" stroke="#333" stroke-width="1.25" stroke-linecap="square" stroke-linejoin="miter"/>
<path d="M456.05,277.4 L456.22,278.64 M454.66,279.58 L457.61,279.58 M455.18,281.13 L455.61,284.65 M457.09,281.13 L456.65,284.65 M454.4,286.52 L457.69,285.9 M460.29,277.4 L460.29,280.51 M458.73,278.44 L458.73,280.51 L462.03,280.51 L462.03,278.44 M458.21,282.06 L462.29,282.06 M458.73,288.8 L458.73,283.62 L462.03,283.62 L462.03,288.8 M459.86,283.62 L459.86,287.97 M460.9,283.62 L460.9,287.97" fill="none" stroke="#333" stroke-width="1.25" stroke-linecap="square" stroke-linejoin="miter"/>
<path class="o" style="stroke:#666;stroke-width:0.9" d="M522.2,437.2 Q519.8,442.7 522.2,448.2"/>
<path d="M528.39,437.6 L529.15,438.78 M532.21,437.6 L531.45,438.78 M526.96,439.6 L533.64,439.6 L533.64,443.96 L526.96,443.96 L526.96,439.6 M526.96,441.78 L533.64,441.78 M530.3,439.6 L530.3,447.6 M526,445.69 L534.6,445.69" fill="none" stroke="#666" stroke-width="0.9" stroke-linecap="square" stroke-linejoin="miter"/>
<path d="M538.98,437.6 L536.69,442.33 M538.03,440.33 L538.03,447.6 M542.14,437.6 L542.42,438.87 M539.94,439.96 L545,439.96 M540.9,441.42 L541.56,445.42 M544.14,441.42 L543.48,445.42 M539.65,446.96 L545.1,446.96" fill="none" stroke="#666" stroke-width="0.9" stroke-linecap="square" stroke-linejoin="miter"/>
<circle cx="548" cy="441.8" r="0.7" fill="#666"/><circle cx="548" cy="446.6" r="0.7" fill="#666"/>
<text x="553.5" y="447.6" font-size="10.2" textLength="17.2" lengthAdjust="spacingAndGlyphs" fill="#666" style="stroke:none">mm</text>
<path class="o" style="stroke:#666;stroke-width:0.9" d="M574.5,437.2 Q576.9,442.7 574.5,448.2"/>
</svg></body></html>
